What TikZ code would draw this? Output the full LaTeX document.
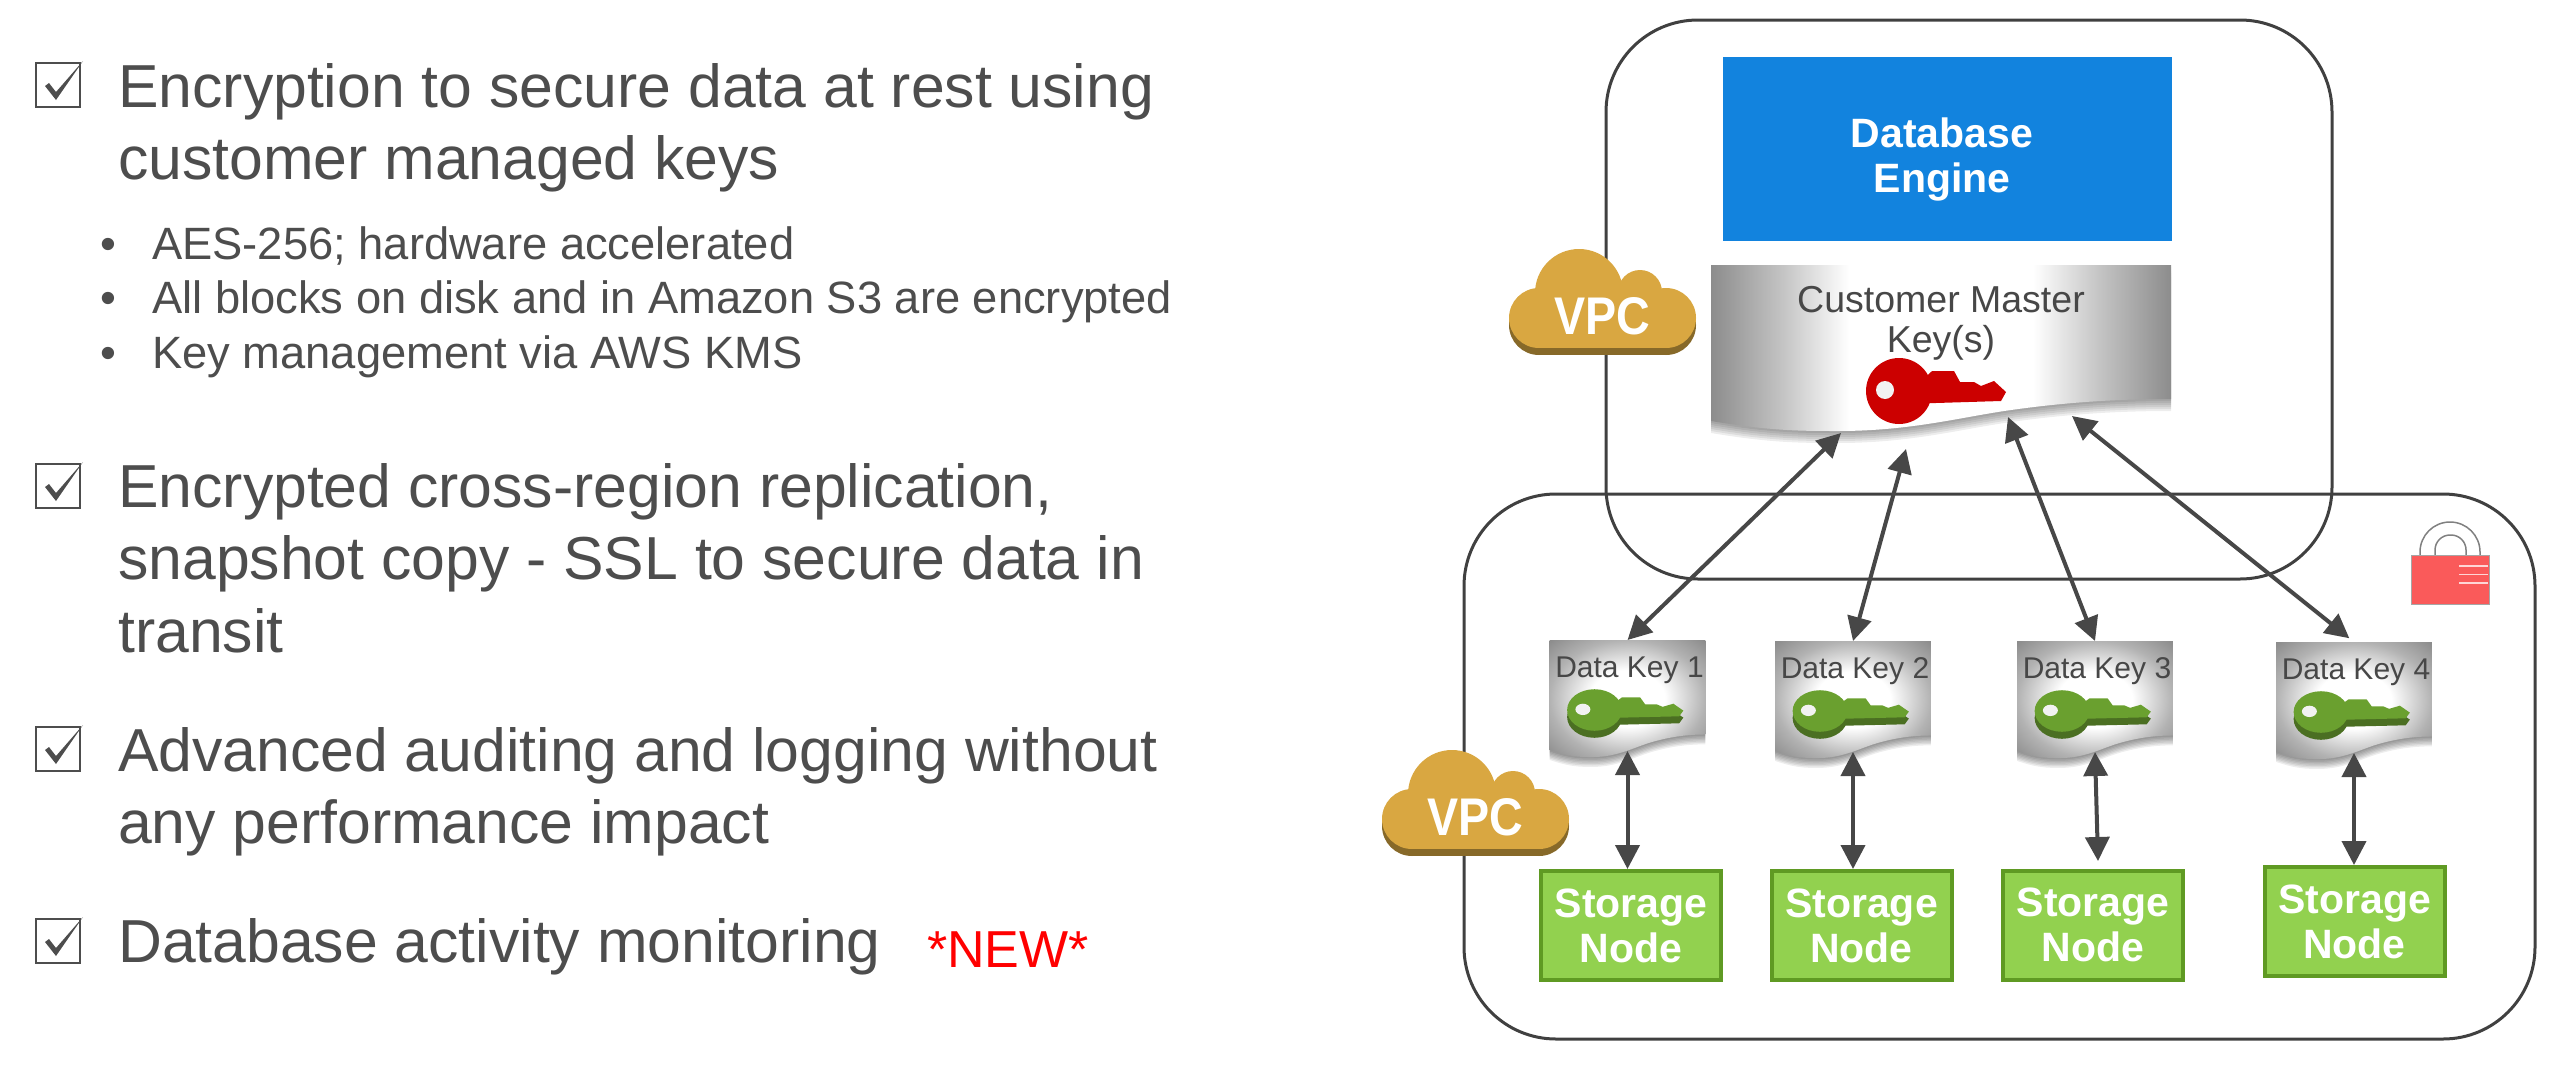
\documentclass[tikz,border=0pt]{standalone}
\usepackage{fontspec}
\setmainfont{Liberation Sans}
\usetikzlibrary{arrows.meta}

\definecolor{inkgrey}{HTML}{4D4D4D}
\definecolor{arrowgrey}{HTML}{474747}
\definecolor{linegrey}{HTML}{404040}
\definecolor{dbblue}{HTML}{1283DE}
\definecolor{nodegreen}{HTML}{92D14F}
\definecolor{nodeborder}{HTML}{5F9A23}
\definecolor{keygreen}{HTML}{6AA02F}
\definecolor{keydark}{HTML}{4B6F22}
\definecolor{keyred}{HTML}{CC0000}
\definecolor{cloudgold}{HTML}{D9A741}
\definecolor{clouddark}{HTML}{876929}
\definecolor{lockred}{HTML}{FA5A5A}

\pgfdeclarehorizontalshading{cmkshade}{100bp}{color(0bp)=(gray!90); color(25bp)=(gray!90); color(33bp)=(gray!45); color(40bp)=(white); color(60bp)=(white); color(67bp)=(gray!45); color(75bp)=(gray!90); color(100bp)=(gray!90)}
\pgfdeclareradialshading{dkshade}{\pgfpoint{0bp}{0bp}}{color(0bp)=(white); color(12bp)=(white); color(25bp)=(gray!60); color(35bp)=(gray!90); color(50bp)=(gray!90)}

\newcommand{\wavepath}{(0,0) -- (460,0) -- (460,134) .. controls (400,134) and (350,138) .. (300,145) .. controls (250,152) and (200,166) .. (127,166) .. controls (90,166) and (60,166) .. (0,156) -- cycle}

\tikzset{
    pics/keyicon/.style={code={
        \fill[#1] (0,0) circle[radius=33];
        \fill[#1] (33,-20) -- (55,-20) -- (61,-9) -- (75,-9) -- (82,-5) -- (95,-10) -- (107,1) -- (102,10) -- (37,12) -- (0,12) -- cycle;
        \fill[white!90!gray] (-14,-1) circle[radius=9];
    }},
    pics/cloudicon/.style={code={
        \foreach \col/\dep in {clouddark/7,cloudgold/0} {
            \begin{scope}[shift={(0,\dep)}]
                \fill[\col] (-23,-9) circle[radius=44];
                \fill[\col] (38,-10) circle[radius=22];
                \fill[\col] (-63,16) circle[radius=30];
                \fill[\col] (64,16) circle[radius=30];
                \fill[\col] (-63,0) rectangle (64,46);
            \end{scope}
        }
        \node[vpctext] (-label) at (0,14) {VPC};
    }},
    pics/cmkbanner/.style={code={
        \foreach \d in {2,4,...,12} {\fill[black,opacity=.07,yshift=-\d pt] \wavepath;}
        \shade[shading=cmkshade] \wavepath;
    }},
    pics/databanner/.style={code={
        \begin{scope}[xscale=.339,yscale=.705]
            \foreach \d in {2,4,...,14} {\fill[black,opacity=.07,yshift=-\d pt] \wavepath;}
            \shade[shading=dkshade] \wavepath;
        \end{scope}
        \node[keytext,anchor=base] (-label) at (80,37) {#1};
        \pic[xscale=.83,yscale=.63] at (45,77) {keyicon=keydark};
        \pic[xscale=.83,yscale=.63] at (45,70) {keyicon=keygreen};
        \coordinate (-n) at (78,0);
        \coordinate (-s) at (78,111);
    }},
    pics/checkmarkbox/.style={code={
        \draw[inkgrey,line width=2.5pt] (0,0) rectangle (44,44);
        \fill[inkgrey] (9,23) -- (13,20) -- (20,29) -- (47,-2) -- (20,37) -- cycle;
    }}
}

\begin{document}
\begin{tikzpicture}[x = 1pt, y = -1pt,
        headtext/.style={anchor=north west, inner sep=0pt, align=left, text=inkgrey, font=\fontsize{60.7}{72.5}\selectfont},
        subtext/.style={anchor=north west, inner sep=0pt, align=left, text=inkgrey, font=\fontsize{45.3}{54.5}\selectfont},
        newtext/.style={anchor=base west, inner sep=0pt, text=red, font=\fontsize{52}{60}\selectfont},
        regionbox/.style={draw=linegrey, line width=3pt, rounded corners=92pt},
        enginebox/.style={fill=dbblue, minimum width=449pt, minimum height=184pt},
        whitetext/.style={align=center, inner sep=0pt, text=white, font=\fontsize{41}{45}\selectfont\bfseries},
        storagebox/.style={whitetext, draw=nodeborder, fill=nodegreen, line width=4pt, minimum width=180pt, minimum height=109pt},
        keytext/.style={inner sep=0pt, text=arrowgrey, font=\fontsize{30}{34}\selectfont},
        cmktext/.style={align=center, inner sep=0pt, text=arrowgrey, font=\fontsize{37.5}{40}\selectfont},
        vpctext/.style={inner sep=0pt, text=white, xscale=.88, transform shape, font=\fontsize{53}{60}\selectfont\bfseries},
        linkarrow/.style={<->, >={Triangle[length=24pt,width=24pt]}, draw=arrowgrey, line width=4pt}
]
    \useasboundingbox (0,0) rectangle (2556,1068);

    % left column
    \pic at (36,63) {checkmarkbox};
    \node[headtext] (enc) at (118,63) {Encryption to secure data at rest using\\customer managed keys};
    \node[subtext] (encsub) at (100,226) {\makebox[52pt][l]{•}AES-256; hardware accelerated\\\makebox[52pt][l]{•}All blocks on disk and in Amazon S3 are encrypted\\\makebox[52pt][l]{•}Key management via AWS KMS};
    \pic at (36,464) {checkmarkbox};
    \node[headtext] (repl) at (118,463) {Encrypted cross-region replication,\\snapshot copy - SSL to secure data in\\transit};
    \pic at (36,727) {checkmarkbox};
    \node[headtext] (audit) at (118,727) {Advanced auditing and logging without\\any performance impact};
    \pic at (36,919) {checkmarkbox};
    \node[headtext] (activity) at (118,918) {Database activity monitoring};
    \node[newtext] (new) at (927,967) {*NEW*};

    % regions
    \node[regionbox, minimum width=726pt, minimum height=559pt] (upper) at (1969,299.5) {};
    \node[regionbox, minimum width=1071pt, minimum height=545pt] (lower) at (1999.5,766.5) {};

    \pic (vpcup) at (1602,302) {cloudicon};
    \pic (vpclow) at (1475,803) {cloudicon};

    % database engine and master key
    \node[enginebox] (engine) at (1947.5,149) {};
    \node[whitetext] (enginetext) at (1942,159) {Database\\Engine};
    \pic (cmk) at (1711,265) {cmkbanner};
    \node[cmktext] (cmktitle) at (1941,323) {Customer Master\\Key(s)};
    \pic at (1899,391) {keyicon=keyred};
    \coordinate (cmka) at (1841,433);
    \coordinate (cmkb) at (1906,449);
    \coordinate (cmkc) at (2008,417);
    \coordinate (cmkd) at (2072,416);

    % data keys and storage nodes
    \pic (dk1) at (1549.5,640) {databanner={Data Key 1}};
    \pic (dk2) at (1775,641) {databanner={Data Key 2}};
    \pic (dk3) at (2017,641) {databanner={Data Key 3}};
    \pic (dk4) at (2276,642) {databanner={Data Key 4}};

    \node[storagebox] (sn1) at (1631,925.5) {Storage\\Node};
    \node[storagebox] (sn2) at (1861.5,925.5) {Storage\\Node};
    \node[storagebox] (sn3) at (2093,925) {Storage\\Node};
    \node[storagebox] (sn4) at (2354.5,921.5) {Storage\\Node};
    \coordinate (sn3top) at (2098,861);

    % lock
    \draw[gray, line width=1.5pt, rounded corners=30pt] (2420,555) -- (2420,522) -- (2480,522) -- (2480,555);
    \draw[gray, line width=1.5pt, rounded corners=15pt] (2435,555) -- (2435,535) -- (2466,535) -- (2466,555);
    \node[fill=lockred, draw=gray!70, line width=1pt, inner sep=0pt, minimum width=78pt, minimum height=49pt] (lockbody) at (2450,579.5) {};
    \draw[white!75!lockred, line width=1.5pt] (2459,566) -- (2488,566);
    \draw[white!75!lockred, line width=1.5pt] (2459,574.5) -- (2488,574.5);
    \draw[white!75!lockred, line width=1.5pt] (2459,583) -- (2488,583);

    % links
    \draw[linkarrow] (dk1-n) -- (cmka);
    \draw[linkarrow] (dk2-n) -- (cmkb);
    \draw[linkarrow] (cmkc) -- (dk3-n);
    \draw[linkarrow, shorten >=6pt] (cmkd) -- (dk4-n);
    \draw[linkarrow] (dk1-s) -- (dk1-s |- sn1.north);
    \draw[linkarrow] (dk2-s) -- (dk2-s |- sn2.north);
    \draw[linkarrow] (dk3-s) -- (sn3top);
    \draw[linkarrow] (dk4-s) -- (dk4-s |- sn4.north);
\end{tikzpicture}
\end{document}
